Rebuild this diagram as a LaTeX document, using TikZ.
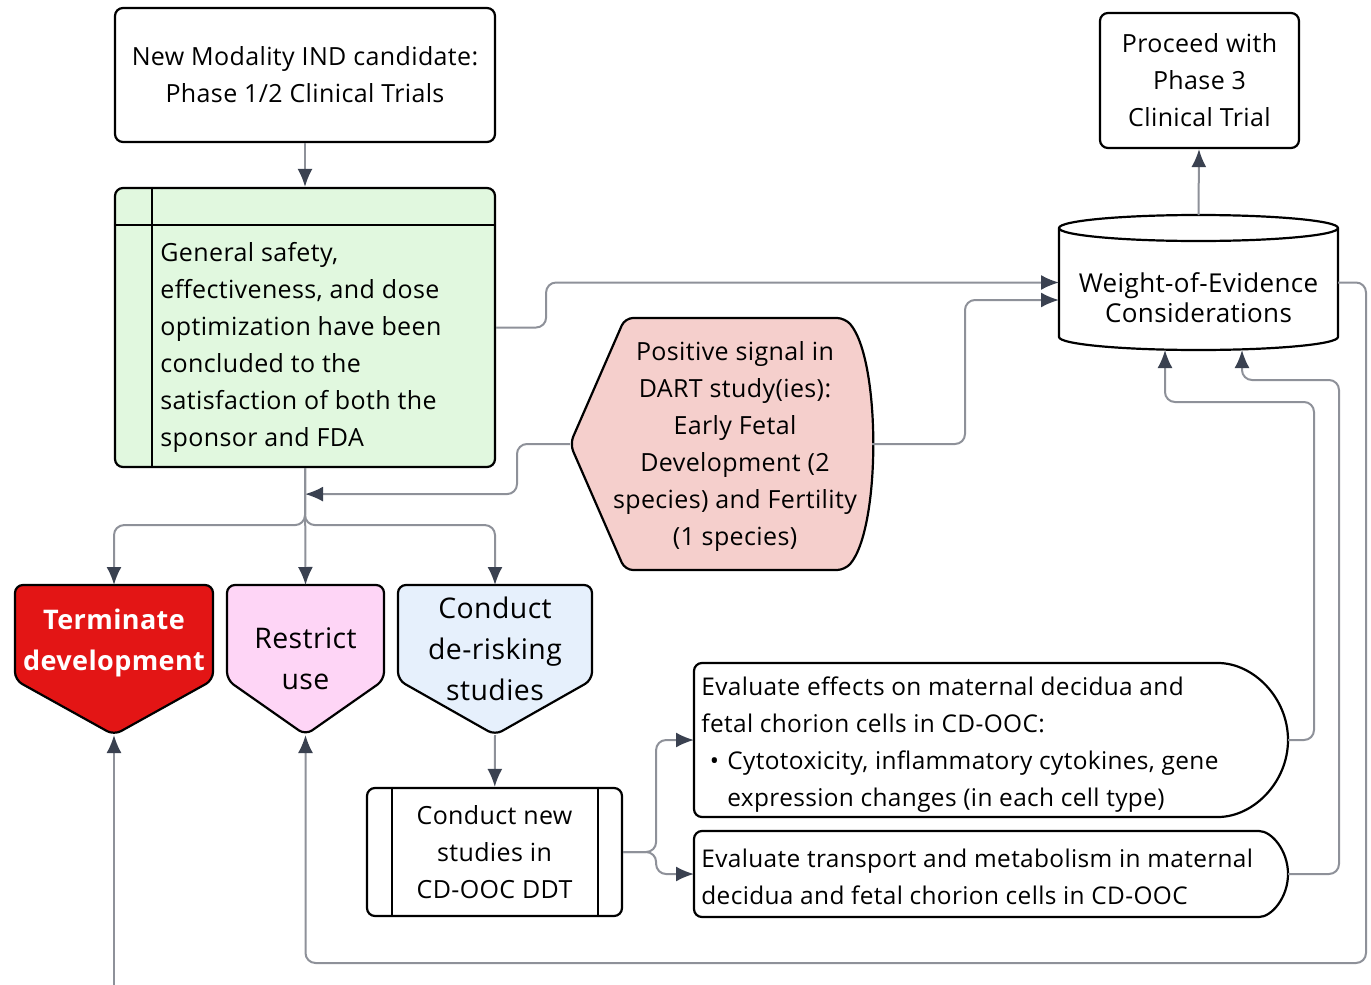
\documentclass[tikz,border=0pt]{standalone}
\usepackage{fontspec}
\setmainfont{Open Sans}[LetterSpace=1.5]
\usetikzlibrary{arrows.meta, positioning, calc}

\definecolor{linegray}{HTML}{8E9199}
\definecolor{tipgray}{HTML}{3A4150}
\definecolor{safetygreen}{HTML}{E1F8DF}
\definecolor{dartpink}{HTML}{F5CFCC}
\definecolor{termred}{HTML}{E31515}
\definecolor{restrictpink}{HTML}{FED5F6}
\definecolor{deriskblue}{HTML}{E6F0FC}

\begin{document}
\begin{tikzpicture}[
  x=0.5pt, y=-0.5pt,
  font=\fontsize{12.5}{18.5}\selectfont,
  > = {Latex[length=9pt, width=7.5pt, color=tipgray]},
  box/.style = {draw=black, line width=1.1pt, rounded corners=4pt, align=center, inner sep=0pt},
  outline/.style = {draw=black, line width=1.1pt, rounded corners=4pt},
  frame/.style = {inner sep=0pt, outer sep=0pt},
  txt/.style = {align=center, inner sep=0pt},
  bigtxt/.style = {align=center, inner sep=0pt, font=\fontsize{14.2}{20.5}\selectfont},
  evaltxt/.style = {align=left, inner sep=0pt, anchor=west, font=\fontsize{12.2}{18.5}\selectfont},
  conn/.style = {draw=linegray, line width=1pt, rounded corners=5pt, ->}
  ]
  \useasboundingbox (0,0) rectangle (1371,985);

  % plain boxes
  \node[box, minimum width=190pt, minimum height=67pt] (top) at (305,75) {New Modality IND candidate:\\Phase 1/2 Clinical Trials};
  \node[box, minimum width=99.5pt, minimum height=67.5pt] (proceed) at (1199.5,80.5) {Proceed with\\Phase 3\\Clinical Trial};
  \node[box, fill=safetygreen, minimum width=190pt, minimum height=139.5pt] (safety) at (305,327.5) {};
  \draw[line width=1.1pt] ([xshift=19pt]safety.north west) -- ([xshift=19pt]safety.south west);
  \draw[line width=1.1pt] ([yshift=-19pt]safety.north west) -- ([yshift=-19pt]safety.north east);
  \node[txt, align=left, anchor=west] (safety-t) at (160,347.5) {General safety,\\effectiveness, and dose\\optimization have been\\concluded to the\\satisfaction of both the\\sponsor and FDA};

  % weight of evidence store
  \node[frame, minimum width=139.5pt, minimum height=67.5pt] (woe) at (1198.5,282.5) {};
  \draw[outline, rounded corners=0pt, fill=white] ([yshift=-6.5pt]woe.north west) -- ([yshift=6.5pt]woe.south west)
    arc[start angle=180, end angle=360, x radius=69.75pt, y radius=6.5pt] -- ([yshift=-6.5pt]woe.north east)
    arc[start angle=0, end angle=360, x radius=69.75pt, y radius=6.5pt];
  \node[txt, font=\fontsize{13}{15}\selectfont] (woe-t) at (1198.5,298) {Weight-of-Evidence\\Considerations};

  % DART signal
  \node[frame, minimum width=151pt, minimum height=126pt] (dart) at (721,444) {};
  \draw[outline, fill=dartpink] (dart.west) -- ([xshift=27.5pt]dart.north west) -- ([xshift=-13.5pt]dart.north east)
    .. controls ([xshift=4.5pt, yshift=-21pt]dart.north east) and ([xshift=4.5pt, yshift=21pt]dart.south east) .. ([xshift=-13.5pt]dart.south east)
    -- ([xshift=27.5pt]dart.south west) -- cycle;
  \node[txt] (dart-t) at (735,446.5) {Positive signal in\\DART study(ies):\\Early Fetal\\Development (2\\species) and Fertility\\(1 species)};

  % outcomes
  \node[frame, minimum width=99pt, minimum height=75pt] (term) at (114,660) {};
  \node[frame, minimum width=78.5pt, minimum height=75pt] (restrict) at (305.5,660) {};
  \node[frame, minimum width=97pt, minimum height=75pt] (derisk) at (495,660) {};
  \foreach \n/\c in {term/termred, restrict/restrictpink, derisk/deriskblue}
    \draw[outline, fill=\c] (\n.north west) -- (\n.north east) -- ([yshift=27.5pt]\n.south east) -- (\n.south) -- ([yshift=27.5pt]\n.south west) -- cycle;
  \node[bigtxt, text=white, font=\fontsize{13.5}{20.5}\selectfont\bfseries] (term-t) at (114,642.5) {Terminate\\development};
  \node[bigtxt] (restrict-t) at (305.5,658.5) {Restrict\\use};
  \node[bigtxt] (derisk-t) at (495,649) {Conduct\\de-risking\\studies};

  % new studies
  \node[box, minimum width=127.5pt, minimum height=64pt] (newst) at (494.5,852) {Conduct new\\studies in\\CD-OOC DDT};
  \draw[line width=1.1pt] ([xshift=13pt]newst.north west) -- ([xshift=13pt]newst.south west);
  \draw[line width=1.1pt] ([xshift=-12.5pt]newst.north east) -- ([xshift=-12.5pt]newst.south east);

  % evaluations
  \node[frame, minimum width=297pt, minimum height=77pt] (evalA) at (991,740) {};
  \draw[outline] (evalA.north west) -- ([xshift=-39pt]evalA.north east)
    arc[start angle=90, end angle=-90, x radius=39pt, y radius=38.5pt] -- (evalA.south west) -- cycle;
  \node[evaltxt] (evalA-t) at (701,745) {Evaluate effects on maternal decidua and\\fetal chorion cells in CD-OOC:\\\makebox[13pt][c]{\textbullet}Cytotoxicity, inflammatory cytokines, gene\\\hspace*{13pt}expression changes (in each cell type)};
  \node[frame, minimum width=297pt, minimum height=43pt] (evalB) at (991,874) {};
  \draw[outline] (evalB.north west) -- ([xshift=-18.5pt]evalB.north east)
    arc[start angle=90, end angle=-90, x radius=18.5pt, y radius=21.5pt] -- (evalB.south west) -- cycle;
  \node[evaltxt] (evalB-t) at (701,876.5) {Evaluate transport and metabolism in maternal\\decidua and fetal chorion cells in CD-OOC};

  % connectors
  \coordinate (offpage) at (114,985);
  \draw[conn] (top) -- (safety);
  \draw[conn] (woe.north) -- (proceed);
  \draw[conn] (safety.east) -- ++(25pt,0) |- (woe.west);
  \draw[conn] (dart.east) -- ++(46.5pt,0) |- ([yshift=-8.75pt]woe.west);
  \draw[conn] (dart.west) -- ++(-26.5pt,0) |- ([yshift=-13pt]safety.south);
  \draw[conn] (safety.south) -- ++(0,-28.5pt) -| (term.north);
  \draw[conn] (safety.south) -- (restrict.north);
  \draw[conn] (safety.south) -- ++(0,-28.5pt) -| (derisk.north);
  \draw[conn] (derisk.south) -- (newst);
  \draw[conn] (newst.east) -- ++(16.5pt,0) |- (evalA.west);
  \draw[conn] (newst.east) -- ++(16.5pt,0) |- (evalB.west);
  \draw[conn] (evalA.east) -- ++(13pt,0) |- ($(woe.south)+(-16.75pt,-26pt)$) -- ($(woe.south)+(-16.75pt,0)$);
  \draw[conn] (evalB.east) -- ++(25.5pt,0) |- ($(woe.south)+(21.75pt,-15pt)$) -- ($(woe.south)+(21.75pt,0)$);
  \draw[conn] (woe.east) -- ++(14pt,0) |- ($(restrict.south)+(0,-114pt)$) -- (restrict.south);
  \draw[conn] (offpage) -- (term.south);
\end{tikzpicture}
\end{document}
